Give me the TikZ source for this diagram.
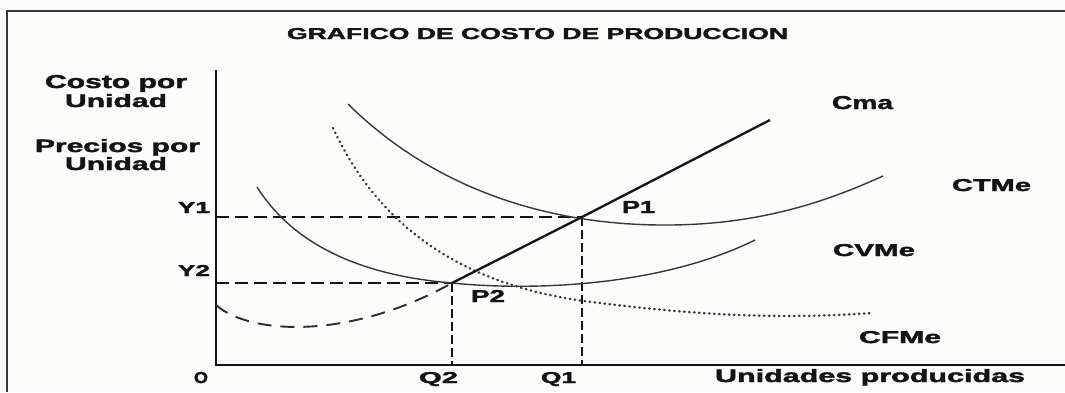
\documentclass[tikz,border=0pt]{standalone}
\usepackage{fontspec}
\setmainfont{Liberation Sans}[BoldFeatures={FakeBold=1.8}]
\newcommand{\fitlab}[3]{\resizebox{#1pt}{#2pt}{\bfseries #3}}
\definecolor{ink}{RGB}{20,20,20}
\definecolor{paper}{RGB}{251,252,250}
\begin{document}
\begin{tikzpicture}[x=1pt,y=-1pt,
  lab/.style={inner sep=0pt,outer sep=0pt,anchor=base west,text=ink},
  framel/.style={draw=ink!85,line width=2pt},
  axisl/.style={draw=ink,line width=2.6pt},
  curvel/.style={draw=ink!85,line width=1.4pt},
  cmal/.style={draw=ink,line width=2.3pt},
  guideh/.style={draw=ink,line width=2.8pt,dash pattern=on 13pt off 6pt},
  guidev/.style={draw=ink,line width=2.8pt,dash pattern=on 9pt off 4pt},
  lowdash/.style={draw=ink!90,line width=1.9pt,dash pattern=on 14pt off 9pt},
  dotl/.style={draw=ink!85,line width=2.4pt,line cap=round,dash pattern=on 0.6pt off 4.4pt}]
\fill[paper] (0,0) rectangle (1065,392);
\useasboundingbox (0,0) rectangle (1065,392);
% frame
\coordinate (F0) at (7,392);
\coordinate (F1) at (7,11);
\coordinate (F2) at (1065,11);
\draw[framel] (F0) -- (F1) -- (F2);
% axes
\coordinate (YT) at (216,70);
\coordinate (O0) at (216,365);
\coordinate (XE) at (1065,365);
\draw[axisl] (YT) -- (O0) -- (XE);
% key points
\coordinate (P1) at (582,217);
\coordinate (P2) at (452,283);
\coordinate (CmaE) at (770,120);
\coordinate (Y1a) at (216,217);
\coordinate (Y2a) at (216,283);
% guide lines
\draw[guideh] (Y1a) -- (P1);
\draw[guideh] (Y2a) -- (P2);
\draw[guidev] (P1) -- (P1 |- O0);
\draw[guidev] (P2) -- (P2 |- O0);
% CTMe
\draw[curvel] (348,104) .. controls (430,185) and (540,224) .. (660,225)
  .. controls (760,226) and (830,200) .. (883,176);
% CVMe
\draw[curvel] (257,187) .. controls (300,255) and (380,277) .. (P2)
  .. controls (530,291) and (660,287) .. (755,240);
% CFMe
\draw[dotl] (333,128) .. controls (385,240) and (480,290) .. (600,303)
  .. controls (720,318) and (800,318) .. (872,313);
% lower dashed part of Cma
\draw[lowdash] (216,305) .. controls (250,335) and (350,340) .. (P2);
% Cma
\draw[cmal] (P2) -- (P1) -- (CmaE);
% labels
\node[lab] (title) at (287,39) {\fitlab{501}{11}{GRAFICO DE COSTO DE PRODUCCION}};
\node[lab] (costo) at (45,88) {\fitlab{142}{13}{Costo por}};
\node[lab] (unid1) at (65,107) {\fitlab{102}{13}{Unidad}};
\node[lab] (precios) at (35,152) {\fitlab{165}{13}{Precios por}};
\node[lab] (unid2) at (65,170) {\fitlab{102}{13}{Unidad}};
\node[lab] (ly1) at (178,213) {\fitlab{32}{11}{Y1}};
\node[lab] (ly2) at (178,276) {\fitlab{32}{11}{Y2}};
\node[lab] (lo) at (194,383) {\fitlab{14}{11}{O}};
\node[lab] (lq2) at (419,383) {\fitlab{39}{11}{Q2}};
\node[lab] (lq1) at (541,383) {\fitlab{35}{11}{Q1}};
\node[lab] (lun) at (715,382) {\fitlab{310}{13}{Unidades producidas}};
\node[lab] (lcma) at (832,109) {\fitlab{61}{13}{Cma}};
\node[lab] (lctme) at (952,191) {\fitlab{79}{12}{CTMe}};
\node[lab] (lcvme) at (833,256) {\fitlab{82}{12}{CVMe}};
\node[lab] (lcfme) at (859,343) {\fitlab{82}{12}{CFMe}};
\node[lab] (lp1) at (622,213) {\fitlab{33}{12}{P1}};
\node[lab] (lp2) at (471,302) {\fitlab{34}{12}{P2}};
\end{tikzpicture}
\end{document}
